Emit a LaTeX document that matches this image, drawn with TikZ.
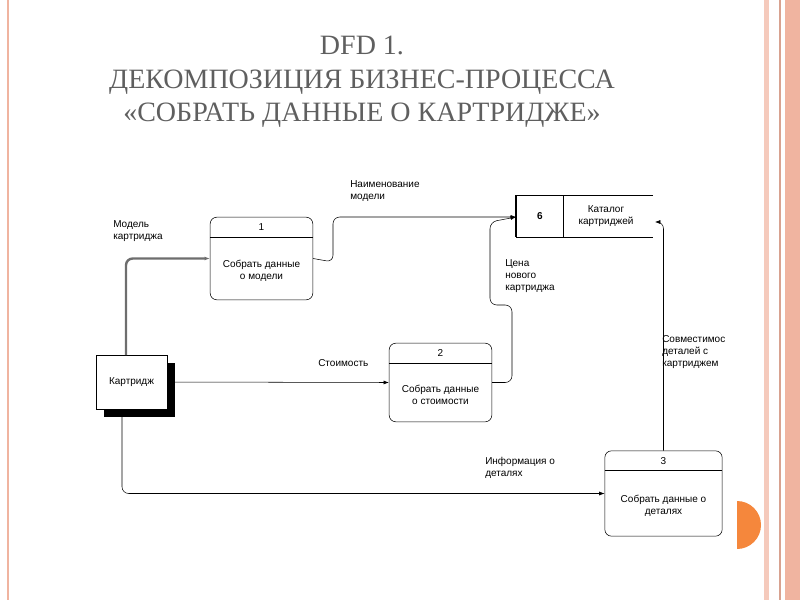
\documentclass[tikz,border=0pt]{standalone}
\usepackage{fontspec}
\setmainfont{Liberation Serif}
\setsansfont{Liberation Sans}
\usetikzlibrary{arrows.meta,positioning}
\definecolor{frame}{RGB}{240,180,160}
\definecolor{disc}{RGB}{245,135,60}
\definecolor{ttl}{RGB}{95,95,95}
\definecolor{flowgray}{RGB}{110,110,110}
\tikzset{
  proc/.style={draw, rounded corners=5pt, minimum width=77pt, align=center,
               font=\sffamily\fontsize{7.5}{9}\selectfont},
  lbl/.style={font=\sffamily\fontsize{7.5}{9}\selectfont, align=left, anchor=north west, inner sep=0pt},
  flow/.style={-{Latex[length=4pt,width=3pt]}, rounded corners=5pt}
}
\begin{document}
\begin{tikzpicture}[x=0.75pt, y=-0.75pt]
    \useasboundingbox (0,0) rectangle (800,600);
    % slide frame
    \draw[frame, line width=1pt] (8,0) -- (8,600);
    \fill[frame!70] (764,0) rectangle (769,600);
    \draw[frame!90!black, line width=0.8pt] (780,0) -- (780,600);
    \fill[frame] (785,0) rectangle (800,600);
    \fill[disc] (737,501) arc[start angle=90, end angle=-90, radius=18pt] -- cycle;

    \node[font=\fontsize{21}{25}\selectfont, text=ttl, align=center] (title) at (362,82)
        {DFD 1.\\ДЕКОМПОЗИЦИЯ БИЗНЕС-ПРОЦЕССА\\«СОБРАТЬ ДАННЫЕ О КАРТРИДЖЕ»};

    % processes
    \node[proc, minimum width=77pt, minimum height=62pt] (p1) at (261.5,258.5) {};
    \node[proc, minimum width=77pt, minimum height=59pt] (p2) at (440.5,382.5) {};
    \node[proc, minimum width=88pt, minimum height=64pt] (p3) at (663.5,493.5) {};
    \foreach \p/\n/\t in {p1/1/{Собрать данные\\о модели},
                          p2/2/{Собрать данные\\о стоимости},
                          p3/3/{Собрать данные о\\деталях}} {
        \draw ([yshift=-15pt]\p.north west) -- ([yshift=-15pt]\p.north east);
        \node[font=\sffamily\fontsize{7.5}{9}\selectfont] at ([yshift=-7.5pt]\p.north) {\n};
        \node[font=\sffamily\fontsize{7.5}{9}\selectfont, align=center] at ([yshift=-9pt]\p.center) {\t};
    }

    % data store
    \coordinate (s1) at (516,195);
    \coordinate (s2) at (653,237);
    \draw (653,195) -- (s1) -- (516,237) -- (s2);
    \draw[line width=1.5pt] (s1) -- (516,237);
    \draw (563,195) -- (563,237);
    \node[font=\sffamily\bfseries\fontsize{7.5}{9}\selectfont] (sn) at (540,216) {6};
    \node[font=\sffamily\fontsize{7.5}{9}\selectfont, align=center] (store) at (606,216) {Каталог\\картриджей};
    \coordinate (sin) at (516,217);
    \coordinate (sout) at (655,222);

    % external entity
    \fill (104,363) rectangle (175,417);
    \node[draw, fill=white, minimum width=53pt, minimum height=40.5pt,
          font=\sffamily\fontsize{7.5}{9}\selectfont] (ent) at (131.5,382) {Картридж};

    % flows
    \draw[flow, flowgray, line width=1.8pt] (126,355) |- (p1.west);
    \draw[flow] (p1.east) -- (333,262) -- (333,217) -- (sin);
    \draw[flow] (ent.east) -- (p2.west);
    \draw[flow] (p2.east) -| (512,305) -| (490,222) -- (sin);
    \draw[flow] (122,409) |- (p3.west);
    \draw[flow] (p3.north) |- (sout);

    \node[lbl] (l1) at (113,220) {Модель\\картриджа};
    \node[lbl] (l2) at (350,180) {Наименование\\модели};
    \node[lbl] (l3) at (318,359) {Стоимость};
    \node[lbl] (l4) at (505,259) {Цена\\нового\\картриджа};
    \node[lbl] (l5) at (485,457) {Информация о\\деталях};
    \node[lbl] (l6) at (662,335) {Совместимос\\деталей с\\картриджем};
\end{tikzpicture}
\end{document}
